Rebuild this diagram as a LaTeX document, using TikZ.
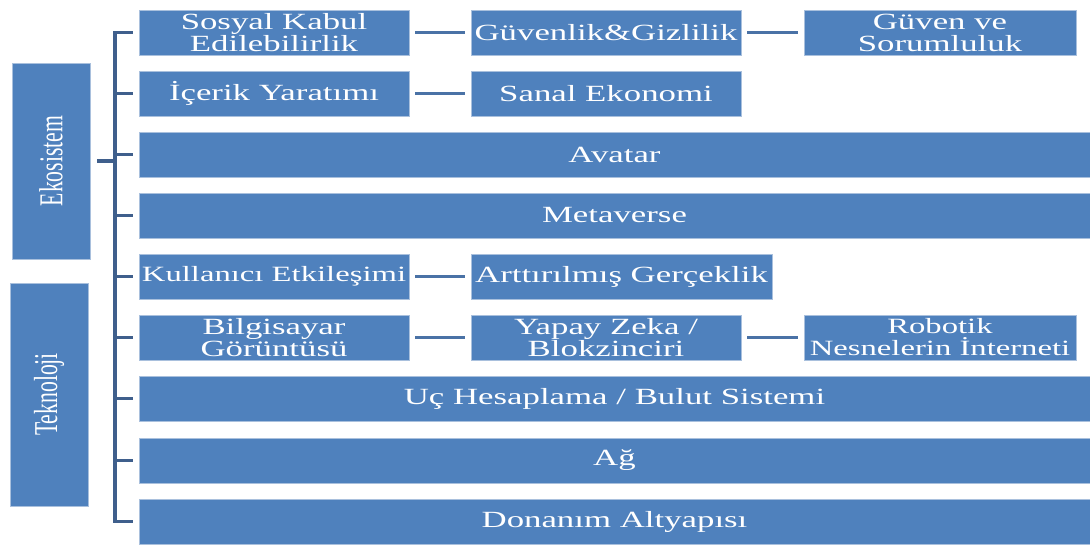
\documentclass[tikz,border=0pt]{standalone}
\usepackage{fontspec}
\usepackage{xcolor}
\usepackage{tikz}
\newfontfamily\kutufont[FakeStretch=1.5]{Liberation Serif}
\newfontfamily\yanfont[FakeStretch=0.65]{Liberation Serif}
\definecolor{kutumavi}{HTML}{4F81BD}
\definecolor{kenarmavi}{HTML}{A9C0DD}
\definecolor{kolmavi}{HTML}{3F5F8C}
\definecolor{cizgimavi}{HTML}{4A72A6}
\tikzset{
	kutu/.style={draw=kenarmavi, line width=0.4pt, fill=kutumavi, text=white,
		inner sep=0pt, minimum height=0.9cm, align=center,
		font=\kutufont\fontsize{13.2}{12.5}\selectfont},
	dar/.style={kutu, minimum width=5.4cm},
	genis/.style={kutu, minimum width=19.02cm},
	sikisik/.style={font=\kutufont\fontsize{12.4}{12.5}\selectfont},
	yan/.style={kutu, minimum width=1.56cm, font=\yanfont\fontsize{19}{19}\selectfont},
	kol/.style={draw=kolmavi, line width=2.2pt},
	bag/.style={draw=cizgimavi, line width=1.6pt, shorten <=0.12cm, shorten >=0.12cm}
}
\begin{document}
\begin{tikzpicture}[x=0.02cm,y=-0.02cm]
	\useasboundingbox (0,0) rectangle (1090,545);
	% left boxes
	\node[yan, minimum height=3.92cm] (eko) at (51,161) {\rotatebox{90}{Ekosistem}};
	\node[yan, minimum height=4.46cm] (tek) at (49,394.5) {\rotatebox{90}{Teknoloji}};
	% nodes
	\node[dar] (sos) at (274,32.5) {Sosyal Kabul\\Edilebilirlik};
	\node[dar] (guv) at (606,32.5) {Güvenlik\&Gizlilik};
	\node[dar, minimum width=5.44cm] (gus) at (940,32.5) {Güven ve\\Sorumluluk};
	\node[dar] (ice) at (274,93.5) {İçerik Yaratımı};
	\node[dar] (san) at (606,93.5) {Sanal Ekonomi};
	\node[genis] (ava) at (614.5,154.5) {Avatar};
	\node[genis] (met) at (614.5,215.5) {Metaverse};
	\node[dar, sikisik] (kul) at (274,276.5) {Kullanıcı Etkileşimi};
	\node[dar, minimum width=6.02cm] (art) at (621.5,276.5) {Arttırılmış Gerçeklik};
	\node[dar] (bil) at (274,337.5) {Bilgisayar\\Görüntüsü};
	\node[dar] (yap) at (606,337.5) {Yapay Zeka /\\Blokzinciri};
	\node[dar, sikisik, minimum width=5.44cm] (rob) at (940,337.5) {Robotik\\Nesnelerin İnterneti};
	\node[genis] (uch) at (614.5,398.5) {Uç Hesaplama / Bulut Sistemi};
	\node[genis] (ag) at (614.5,460.5) {Ağ};
	\node[genis] (don) at (614.5,521.5) {Donanım Altyapısı};
	%
	\coordinate (omurga) at (115,0);
	% bracket
	\draw[kol] ([xshift=-0.12cm]sos.west) -- (sos.west -| omurga)
		-- (don.west -| omurga) -- ([xshift=-0.12cm]don.west);
	\foreach \k in {ice,ava,met,kul,bil,uch,ag}
		\draw[kol] (\k.west -| omurga) -- ([xshift=-0.12cm]\k.west);
	\draw[kol] ([xshift=0.14cm]eko.east) -- (eko.east -| omurga);
	%
	\path[bag]
	(sos) edge (guv)
	(guv) edge (gus)
	(ice) edge (san)
	(kul) edge (art)
	(bil) edge (yap)
	(yap) edge (rob);
\end{tikzpicture}
\end{document}
